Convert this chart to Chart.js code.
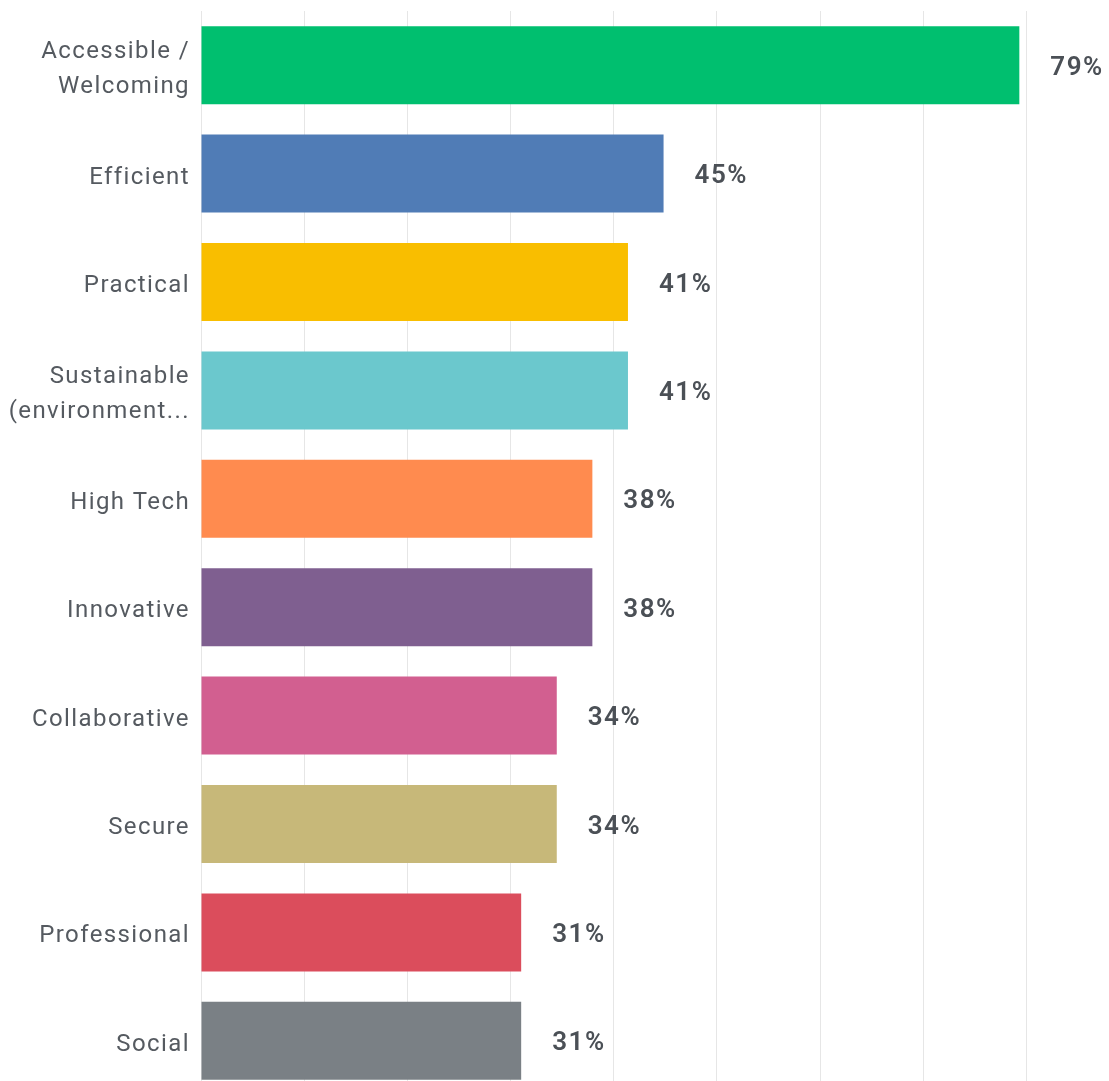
<!DOCTYPE html>
<html>
<head>
<script src="https://cdn.jsdelivr.net/npm/chart.js"></script>
<style>
  html, body { margin: 0; padding: 0; background: #fff; overflow: hidden; }
  #container { width: 1109px; height: 1095px; }
</style>
</head>
<body>
<div id="container">
  <canvas id="canvas"></canvas>
</div>
<script>
    // answer choices and share of respondents (%)
    var categories = [
      ['Accessible /', 'Welcoming'],
      'Efficient',
      'Practical',
      ['Sustainable', '(environment...'],
      'High Tech',
      'Innovative',
      'Collaborative',
      'Secure',
      'Professional',
      'Social'
    ];
    var values = [79.31, 44.83, 41.38, 41.38, 37.93, 37.93, 34.48, 34.48, 31.03, 31.03];
    var barColors = ['#00BF6F', '#507CB6', '#F9BE00', '#6BC8CD', '#FF8B4F',
                     '#7F5F90', '#D25F90', '#C7B879', '#DB4D5C', '#7A8085'];
    var gridTicks = [0, 10, 20, 30, 40, 50, 60, 70, 80];

    // wider spacing of the survey font
    var spacing = {
      id: 'spacing',
      beforeDraw: function(chart) { chart.ctx.letterSpacing = '1.4px'; }
    };

    // draws the "79%" style labels past the end of each bar
    var barLabels = {
      id: 'barLabels',
      afterDatasetsDraw: function(chart) {
        var ctx = chart.ctx;
        var meta = chart.getDatasetMeta(0);
        ctx.save();
        ctx.letterSpacing = '1.5px';
        ctx.font = '600 26px Roboto';
        ctx.fillStyle = '#4b5056';
        ctx.textAlign = 'left';
        ctx.textBaseline = 'middle';
        meta.data.forEach(function(bar, i) {
          ctx.fillText(Math.round(values[i]) + '%', bar.x + 31, bar.y + 3);
        });
        ctx.restore();
      }
    };

    var ctx = document.getElementById('canvas');
    new Chart(ctx, {
      type: 'bar',
      data: {
        labels: categories,
        datasets: [{
          data: values,
          backgroundColor: barColors,
          borderWidth: 0,
          barPercentage: 0.72,
          categoryPercentage: 1.0
        }]
      },
      options: {
        indexAxis: 'y',
        responsive: true,
        maintainAspectRatio: false,
        animation: false,
        layout: { padding: { top: 11, right: 0, bottom: 0, left: 0 } },
        scales: {
          x: {
            min: 0,
            max: 88,
            afterBuildTicks: function(axis) {
              axis.ticks = gridTicks.map(function(v) { return { value: v }; });
            },
            afterFit: function(axis) { axis.height = 0; },
            ticks: { display: false },
            grid: { color: '#e6e6e6', lineWidth: 1, drawTicks: false },
            border: { display: false }
          },
          y: {
            afterFit: function(axis) {
              axis.width = 201;
              axis.paddingTop = 0;
              axis.paddingBottom = 0;
            },
            ticks: {
              color: '#555a60',
              font: { family: 'Roboto', size: 24, lineHeight: 1.45 },
              padding: 11,
              labelOffset: 4,
              crossAlign: 'near'
            },
            grid: { display: false, drawTicks: false },
            border: { display: false }
          }
        },
        plugins: {
          legend: { display: false },
          tooltip: { enabled: false }
        }
      },
      plugins: [spacing, barLabels]
    });
</script>
</body>
</html>
